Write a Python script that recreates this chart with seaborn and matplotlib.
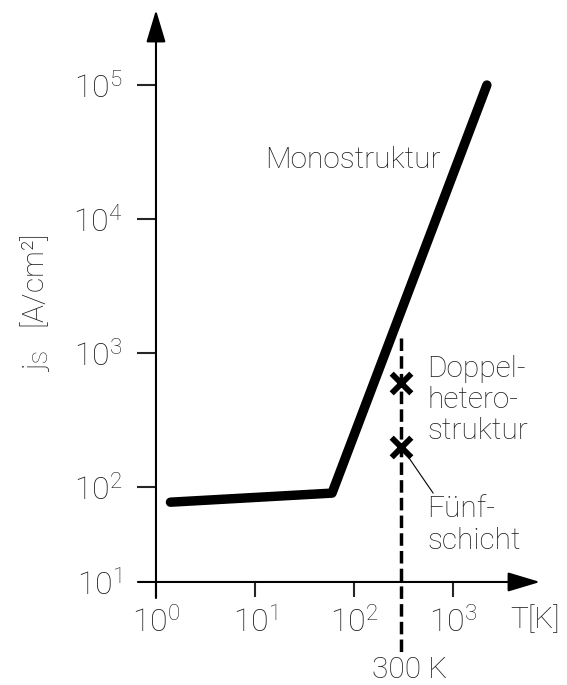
import numpy as np
import pandas as pd
import matplotlib
matplotlib.use("Agg")
import matplotlib.pyplot as plt
import seaborn as sns

# Saturation current density of a laser structure vs. temperature (schematic)
temperature_K = [1.4, 60, 2200]
current_density = [77, 90, 1.0e5]

# Room-temperature values of the hetero structures
room_T = 300
hetero_names = ["Doppelheterostruktur", "Fünfschicht"]
hetero_values = [600, 200]

x_ticks = [1, 10, 100, 1000]
x_tick_labels = [r"$\mathregular{10^{0}}$", r"$\mathregular{10^{1}}$",
                 r"$\mathregular{10^{2}}$", r"$\mathregular{10^{3}}$"]
y_ticks = [1e2, 1e3, 1e4, 1e5]
y_tick_labels = [r"$\mathregular{10^{2}}$", r"$\mathregular{10^{3}}$",
                 r"$\mathregular{10^{4}}$", r"$\mathregular{10^{5}}$"]

sns.set_style("white")
plt.rcParams["font.family"] = ["Roboto", "DejaVu Sans"]
plt.rcParams["font.weight"] = "light"
plt.rcParams["mathtext.default"] = "regular"

TXT = "#1e1e1e"
FS = 21.5

fig = plt.figure(figsize=(5.67, 6.85), dpi=100)
ax = fig.add_axes([0.2751, 0.1504, 0.6773, 0.835])
ax.set_xscale("log")
ax.set_yscale("log")
x_min, x_max = 1.0, 10 ** 3.879
y_min, y_max = 10 ** 1.291, 10 ** 5.56
ax.set_xlim(x_min, x_max)
ax.set_ylim(y_min, y_max)

curve = pd.DataFrame({"T": temperature_K, "j": current_density})
sns.lineplot(data=curve, x="T", y="j", ax=ax, color="black", linewidth=6.8,
             solid_capstyle="round", solid_joinstyle="round", clip_on=False)

# 300 K guide line, running below the T axis
ax.plot([room_T, room_T], [1300, 5.5], color="black", linewidth=2.5,
        dashes=(3.6, 1.5), clip_on=False)

points = pd.DataFrame({"T": [room_T] * len(hetero_values), "j": hetero_values})
sns.scatterplot(data=points, x="T", y="j", ax=ax, marker="x", color="black",
                s=200, linewidth=4.2, zorder=5)

# leader line to the five-layer label
ax.annotate("", xy=(room_T, hetero_values[1]), xytext=(630, 90),
            arrowprops=dict(arrowstyle="-", color="black", lw=0.8,
                            shrinkA=0, shrinkB=0))

ax.text(550, 446, "Doppel-\nhetero-\nstruktur", ha="left", va="center",
        fontsize=FS, color=TXT, linespacing=1.15)
ax.text(550, 52, "Fünf-\nschicht", ha="left", va="center",
        fontsize=FS, color=TXT, linespacing=1.15)
ax.text(12.6, 27500, "Monostruktur", ha="left", va="center",
        fontsize=FS, color=TXT)
ax.text(368, 4.3, "300 K", ha="center", va="center", fontsize=FS, color=TXT)
ax.text(3770, 10.2, "T[K]", ha="left", va="center", fontsize=FS, color=TXT)

# axes drawn as arrows crossing at the origin
for sp in ax.spines.values():
    sp.set_visible(False)
arrow = dict(arrowstyle="-|>,head_length=2.0,head_width=0.6", color="black",
             lw=1.5, shrinkA=0, shrinkB=0, mutation_scale=10)
ax.annotate("", xy=(1.0, 0.0), xytext=(-0.047, 0.0), xycoords="axes fraction",
            textcoords="axes fraction", arrowprops=arrow)
ax.annotate("", xy=(0.0, 1.0), xytext=(0.0, -0.028), xycoords="axes fraction",
            textcoords="axes fraction", arrowprops=arrow)

ax.set_xticks(x_ticks)
ax.set_xticklabels(x_tick_labels)
ax.set_yticks(y_ticks)
ax.set_yticklabels(y_tick_labels)
ax.minorticks_off()
ax.tick_params(axis="x", direction="out", length=11, width=1.5, pad=6,
               labelsize=23, labelcolor=TXT, bottom=True)
ax.tick_params(axis="y", direction="out", length=14, width=1.5, pad=10,
               labelsize=23, labelcolor=TXT, left=True)
ax.text(-0.09, 0.0, r"$\mathregular{10^{1}}$", transform=ax.transAxes,
        ha="right", va="center_baseline", fontsize=23, color=TXT)

ax.set_xlabel("")
ax.set_ylabel("")
fig.text(0.062, 0.558, r"j$_\mathregular{S}$   [A/cm²]", rotation=90,
         ha="center", va="center", fontsize=FS, color=TXT)

fig.savefig("out.png", dpi=100, facecolor="white")
